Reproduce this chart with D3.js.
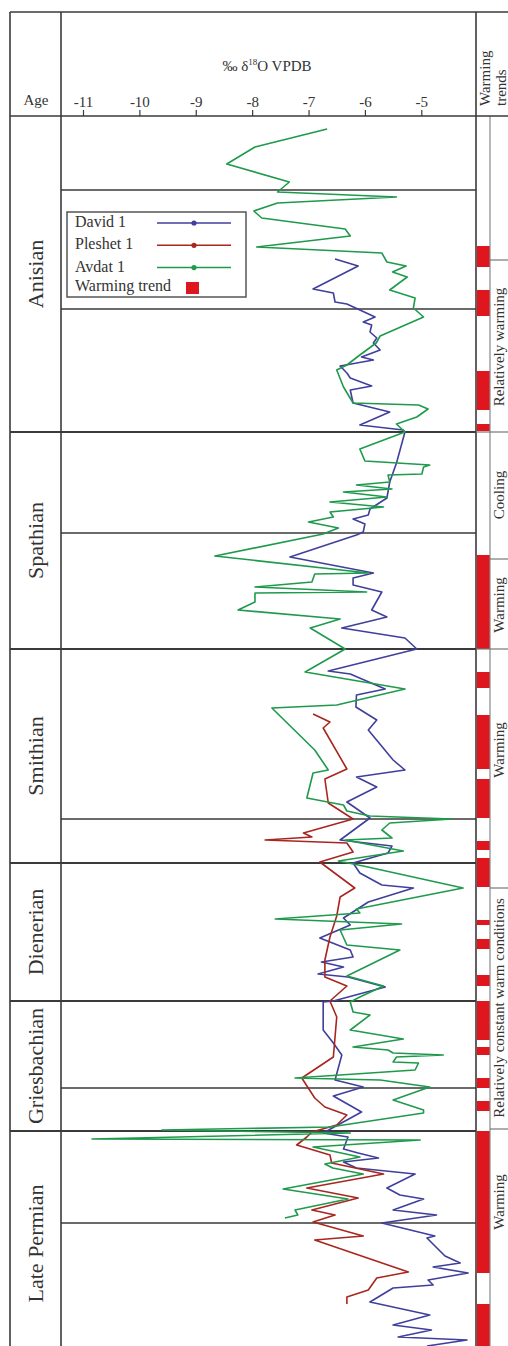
<!DOCTYPE html>
<html><head><meta charset="utf-8">
<script src="https://cdn.jsdelivr.net/npm/d3@7/dist/d3.min.js"></script>
<style>
body{margin:0;background:#fff}
svg{display:block}
text{font-family:"Liberation Serif","Times New Roman",serif;fill:#333}
</style>
</head><body>
<svg id="chart" width="508" height="1346"></svg>
<script>
// ---------- DATA ----------
// stratigraphic level (relative units, 0 = top of section) and δ18O (‰ VPDB)
const xTicks = [-11, -10, -9, -8, -7, -6, -5];

const stageNames = ["Anisian", "Spathian", "Smithian", "Dienerian", "Griesbachian", "Late Permian"];
const stageTops  = [0, 316, 533, 747, 885, 1015];
const stageBases = [316, 533, 747, 885, 1015, 1240];
const subHorizons = [74, 193, 417, 703, 972, 1107];

const trendLabels = ["", "Relatively warming", "Cooling", "Warming", "Warming", "Relatively constant warm conditions", "Warming"];
const trendTops   = [0, 144, 316, 443, 533, 772, 1013];
const trendLabelLevels = [72, 231, 379, 489, 634, 892, 1086];

const warmingBars = [[130,151],[174,200],[255,294],[308,315],[439,533],[556,572],[599,653],[663,702],
  [725,734],[742,771],[804,809],[823,833],[859,870],[885,924],[931,939],[962,972],[985,995],[1015,1157],[1188,1240]];

const david = [[143,-6.53],[150,-6.12],[173,-6.92],[177,-6.56],[186,-6.53],[188,-6.32],[201,-5.82],[206,-6.03],
  [209,-5.88],[216,-5.91],[222,-5.79],[227,-5.85],[234,-5.73],[241,-6.06],[244,-5.85],[250,-6.44],[257,-6.32],
  [262,-6.26],[270,-5.88],[274,-6.26],[287,-6.21],[296,-5.56],[309,-6.09],[314,-5.32],[316,-5.29],[347,-5.44],
  [366,-5.56],[382,-5.61],[393,-5.91],[399,-5.94],[403,-6.21],[408,-6.00],[416,-6.03],[419,-6.15],[441,-7.33],
  [457,-5.85],[462,-6.21],[469,-6.21],[476,-5.70],[494,-5.88],[501,-5.61],[512,-6.41],[522,-5.29],[533,-5.08],
  [555,-6.65],[558,-6.26],[573,-5.64],[579,-6.15],[591,-6.16],[604,-5.79],[614,-5.94],[644,-5.50],[654,-5.29],
  [661,-6.15],[671,-5.79],[686,-6.32],[702,-5.91],[724,-6.44],[730,-5.52],[737,-5.59],[747,-6.21],[757,-6.09],
  [769,-5.70],[772,-5.14],[786,-5.94],[802,-6.38],[809,-6.26],[822,-6.80],[834,-6.26],[841,-6.21],[846,-6.77],
  [851,-6.38],[858,-6.83],[861,-6.30],[871,-5.64],[885,-6.56],[886,-6.74],[914,-6.74],[927,-6.56],[939,-6.41],
  [964,-6.53],[971,-6.03],[980,-6.56],[996,-6.06],[1017,-6.74],[1021,-6.30],[1033,-6.38],[1037,-6.12],[1042,-5.76],
  [1046,-6.38],[1052,-6.15],[1058,-5.11],[1072,-5.61],[1079,-5.38],[1083,-4.96],[1094,-5.50],[1099,-4.73],
  [1107,-5.70],[1120,-4.76],[1122,-4.90],[1140,-4.58],[1147,-4.31],[1151,-4.79],[1157,-4.17],[1164,-4.88],
  [1169,-4.79],[1172,-5.50],[1186,-5.91],[1199,-4.85],[1209,-5.50],[1214,-4.82],[1221,-5.41],[1224,-4.19],[1230,-4.90]];

const pleshet = [[598,-6.92],[606,-6.62],[612,-6.74],[653,-6.32],[663,-6.71],[687,-6.65],[703,-6.21],[717,-7.09],
  [721,-6.94],[724,-7.77],[727,-6.32],[736,-6.21],[746,-6.80],[772,-6.18],[781,-6.44],[800,-6.50],[821,-6.62],
  [844,-6.71],[861,-6.71],[870,-6.32],[885,-6.62],[901,-6.50],[941,-6.56],[962,-7.12],[982,-6.89],[991,-6.71],
  [999,-6.32],[1009,-6.50],[1016,-6.94],[1021,-7.03],[1029,-7.21],[1039,-6.62],[1047,-6.59],[1058,-5.67],
  [1072,-7.03],[1082,-6.12],[1094,-6.94],[1099,-6.53],[1106,-6.92],[1120,-6.03],[1124,-6.89],[1156,-5.23],
  [1162,-5.79],[1174,-5.94],[1181,-6.32],[1188,-6.32]];

const avdat = [[13,-6.67],[31,-7.95],[48,-8.45],[66,-7.34],[76,-7.55],[81,-5.44],[87,-7.55],[95,-7.97],[102,-7.83],
  [113,-6.35],[120,-6.26],[131,-7.92],[137,-5.70],[146,-5.61],[150,-5.27],[156,-5.51],[161,-5.25],[174,-5.56],
  [182,-5.11],[192,-5.14],[201,-4.96],[220,-5.73],[227,-5.80],[239,-6.09],[249,-6.32],[254,-6.50],[271,-6.38],
  [287,-6.21],[289,-5.05],[293,-4.88],[301,-5.08],[308,-5.44],[316,-5.29],[333,-6.09],[345,-6.00],[349,-4.85],
  [351,-4.96],[358,-4.99],[359,-5.59],[366,-5.56],[369,-6.15],[373,-5.52],[376,-6.38],[381,-5.61],[386,-6.62],
  [391,-5.67],[396,-6.62],[401,-6.56],[406,-7.00],[412,-6.47],[418,-6.74],[440,-8.66],[457,-5.94],[458,-6.89],
  [466,-6.94],[471,-7.95],[476,-5.97],[477,-7.95],[486,-7.95],[494,-8.25],[503,-6.44],[512,-6.97],[533,-6.35],
  [556,-7.06],[573,-5.29],[589,-6.50],[592,-7.65],[634,-6.89],[654,-6.65],[657,-6.92],[682,-7.03],[689,-6.38],
  [695,-6.32],[700,-5.91],[703,-4.46],[707,-5.56],[714,-5.70],[722,-5.52],[724,-6.35],[735,-5.32],[745,-6.47],
  [750,-6.03],[772,-4.26],[793,-6.15],[797,-6.09],[803,-7.59],[808,-5.35],[814,-6.44],[829,-6.32],[834,-5.38],
  [860,-6.32],[870,-5.67],[881,-6.09],[886,-6.26],[896,-6.21],[899,-5.91],[914,-6.26],[923,-5.32],[931,-6.21],
  [934,-5.59],[937,-5.50],[939,-4.61],[941,-5.44],[946,-5.50],[947,-5.05],[954,-5.11],[962,-7.24],[964,-5.73],
  [971,-4.85],[984,-5.50],[994,-4.96],[997,-4.96],[1011,-6.62],[1014,-9.60],[1017,-6.26],[1023,-10.84],[1024,-5.02],
  [1031,-6.92],[1041,-6.09],[1048,-6.71],[1052,-6.57],[1058,-6.03],[1073,-7.45],[1083,-6.30],[1094,-7.24],
  [1099,-7.19],[1102,-7.42]];

const seriesNames = ["David 1", "Pleshet 1", "Avdat 1"];
const seriesColors = ["#3f3f9c", "#a8261f", "#1f9a4c"];
const seriesData = [david, pleshet, avdat];
const barColor = "#e0161f";

// ---------- LAYOUT ----------
const frameL = 10, frameT = 12, ageR = 61, plotR = 476, barR = 490, W = 508, H = 1346, headB = 116;
const svg = d3.select("#chart");
const x = d3.scaleLinear().domain([-11.39, -4.03]).range([ageR, plotR]);
const y = d3.scaleLinear().domain([0, 1230]).range([headB, H]);
const lineCol = "#3a3a3a";

function hline(yy, x1, x2, w, c) {
  svg.append("line").attr("x1", x1).attr("x2", x2).attr("y1", yy).attr("y2", yy)
    .attr("stroke", c || lineCol).attr("stroke-width", w || 1.6);
}
function vline(xx, y1, y2, w, c) {
  svg.append("line").attr("x1", xx).attr("x2", xx).attr("y1", y1).attr("y2", y2)
    .attr("stroke", c || lineCol).attr("stroke-width", w || 1.6);
}

// warming bars
svg.append("g").selectAll("rect").data(warmingBars).join("rect")
  .attr("x", plotR + 1).attr("width", barR - plotR - 1)
  .attr("y", d => y(d[0])).attr("height", d => y(d[1]) - y(d[0]))
  .attr("fill", barColor);

// frame
hline(frameT, frameL, W);
vline(frameL, frameT, H);
vline(ageR, frameT, H);
vline(plotR, frameT, H);
vline(barR, headB, H, 1.2, "#888");
hline(headB, frameL, W);

stageTops.slice(1).forEach(t => hline(y(t), frameL, plotR, 1.8));
subHorizons.forEach(t => hline(y(t), ageR, plotR, 1.6));
trendTops.slice(1).forEach(t => hline(y(t), stageTops.includes(t) ? plotR : barR, W, 1.2, "#777"));

// axis
const axis = d3.axisTop(x).tickValues(xTicks).tickSize(6).tickPadding(3).tickFormat(d => String(d));
const ag = svg.append("g").attr("transform", `translate(0,${headB})`).call(axis);
ag.select(".domain").remove();
ag.selectAll(".tick line").attr("stroke", lineCol).attr("stroke-width", 1.2);
ag.selectAll(".tick text").attr("font-size", 15).attr("font-family", '"Liberation Serif",serif').attr("fill", "#333");

// title
const tt = svg.append("text").attr("x", 267).attr("y", 71).attr("text-anchor", "middle").attr("font-size", 15);
tt.append("tspan").text("‰ δ");
tt.append("tspan").attr("font-size", 9).attr("dy", -6).text("18");
tt.append("tspan").attr("dy", 6).text("O VPDB");

svg.append("text").attr("x", 36).attr("y", 105).attr("text-anchor", "middle").attr("font-size", 15).text("Age");

// header of trend column
svg.append("text").attr("transform", "translate(490,106) rotate(-90)").attr("font-size", 15).text("Warming");
svg.append("text").attr("transform", "translate(506,106) rotate(-90)").attr("font-size", 15).text("trends");

// stage labels
stageNames.forEach((n, i) => {
  const cy = (y(stageTops[i]) + y(Math.min(stageBases[i], 1230 + 11))) / 2;
  svg.append("text").attr("transform", `translate(43,${cy}) rotate(-90)`)
    .attr("text-anchor", "middle").attr("font-size", 22).text(n);
});

// trend labels
trendLabels.forEach((n, i) => {
  if (!n) return;
  svg.append("text").attr("transform", `translate(504,${y(trendLabelLevels[i])}) rotate(-90)`)
    .attr("text-anchor", "middle").attr("font-size", 15).text(n);
});

// series lines
const line = d3.line().x(d => x(d[1])).y(d => y(d[0]));
seriesData.forEach((s, i) => {
  svg.append("path").datum(s).attr("d", line).attr("fill", "none")
    .attr("stroke", seriesColors[i]).attr("stroke-width", 1.6).attr("stroke-linejoin", "round");
});

// legend
const lg = svg.append("g");
lg.append("rect").attr("x", 67).attr("y", 212).attr("width", 179).attr("height", 85)
  .attr("fill", "#fff").attr("stroke", "#555").attr("stroke-width", 1.5);
seriesNames.forEach((n, i) => {
  const yy = 223 + i * 22.3;
  lg.append("text").attr("x", 75).attr("y", yy + 4).attr("font-size", 16).text(n);
  lg.append("line").attr("x1", 157).attr("x2", 231).attr("y1", yy).attr("y2", yy)
    .attr("stroke", seriesColors[i]).attr("stroke-width", 1.5);
  lg.append("circle").attr("cx", 194).attr("cy", yy).attr("r", 2.6).attr("fill", seriesColors[i]);
});
lg.append("text").attr("x", 75).attr("y", 291).attr("font-size", 16).text("Warming trend");
lg.append("rect").attr("x", 186).attr("y", 282).attr("width", 13).attr("height", 12).attr("fill", barColor);
</script>
</body></html>
